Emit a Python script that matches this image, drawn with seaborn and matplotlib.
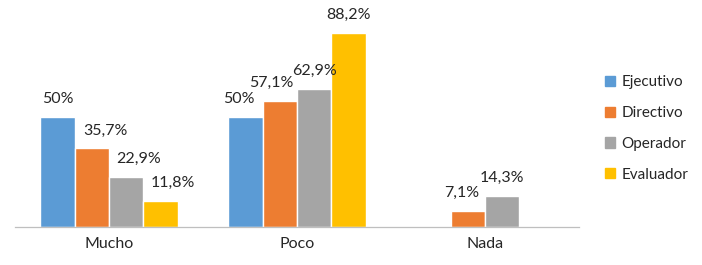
import numpy as np
import pandas as pd
import matplotlib
matplotlib.use('Agg')
import matplotlib.pyplot as plt
import seaborn as sns

sns.set_style('white')
plt.rcParams['font.family'] = ['Lato', 'DejaVu Sans']

# Data
categories = ['Mucho', 'Poco', 'Nada']
series = ['Ejecutivo', 'Directivo', 'Operador', 'Evaluador']
ejecutivo = [50.0, 50.0, np.nan]
directivo = [35.7, 57.1, 7.1]
operador = [22.9, 62.9, 14.3]
evaluador = [11.8, 88.2, np.nan]
colors = ['#5B9BD5', '#ED7D31', '#A5A5A5', '#FFC000']

# horizontal nudges (points) of data labels, as Excel placed them
label_shift = {
    'Ejecutivo': [0, -4.5, 0],
    'Directivo': [10, -6, -4.5],
    'Operador': [9, 0, 0],
    'Evaluador': [9, 0, 0],
}

rows = []
for name, vals in zip(series, [ejecutivo, directivo, operador, evaluador]):
    for cat, v in zip(categories, vals):
        rows.append({'Categoria': cat, 'Grupo': name, 'Valor': v})
df = pd.DataFrame(rows)

fig = plt.figure(figsize=(7.02, 2.65), dpi=100)
ax = fig.add_axes([15 / 702, 38 / 265, 564 / 702, 220 / 265])

sns.barplot(data=df, x='Categoria', y='Valor', hue='Grupo', order=categories,
            hue_order=series, palette=colors, width=0.73, saturation=1,
            ax=ax, legend=False)

# data labels
for name, cont in zip(series, ax.containers):
    for i, bar in enumerate(cont):
        h = bar.get_height()
        if np.isnan(h) or h == 0:
            continue
        txt = f'{h:g}%'.replace('.', ',')
        ax.annotate(txt, (bar.get_x() + bar.get_width() / 2, h),
                    xytext=(label_shift[name][i], 13), textcoords='offset points',
                    ha='center', va='center', fontsize=11.5, color='#262626')

ax.set_xlim(-0.5, 2.5)
ax.set_ylim(0, 100)
ax.set_xlabel('')
ax.set_ylabel('')
ax.set_yticks([])
for s in ['top', 'right', 'left']:
    ax.spines[s].set_visible(False)
ax.spines['bottom'].set_color('#BFBFBF')
ax.spines['bottom'].set_linewidth(0.9)
ax.set_xticks([-0.5, 0.5, 1.5, 2.5], minor=True)
ax.tick_params(axis='x', which='minor', length=5, color='#BFBFBF', width=0.9)
ax.tick_params(axis='x', which='major', length=0, labelsize=11.5,
               labelcolor='#262626', pad=7)

handles = [plt.Rectangle((0, 0), 1, 1, color=c) for c in colors]
fig.legend(handles, series, loc='center left', bbox_to_anchor=(591 / 702, 1 - 128.5 / 265),
           frameon=False, fontsize=11, handlelength=0.65, handleheight=0.65,
           handletextpad=0.45, labelspacing=1.1, labelcolor='#262626')

fig.savefig('out.png', dpi=100)
